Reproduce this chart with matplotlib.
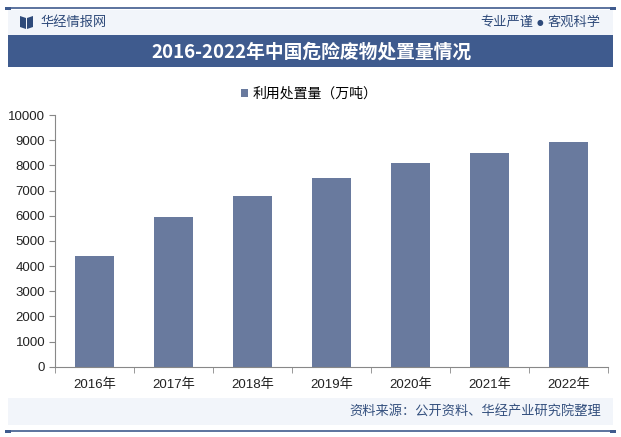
import matplotlib.pyplot as plt
import matplotlib.patches as mpatches
import numpy as np

plt.rcParams['font.family'] = ['Liberation Sans', 'Noto Sans CJK SC', 'DejaVu Sans']

years = ['2016年', '2017年', '2018年', '2019年', '2020年', '2021年', '2022年']
values = [4410, 5960, 6800, 7510, 8080, 8480, 8920]
series_name = '利用处置量（万吨）'
title = '2016-2022年中国危险废物处置量情况'

W, H = 621, 437
fig = plt.figure(figsize=(W / 100, H / 100), dpi=100)
fig.patch.set_facecolor('white')

def px(x, y):
    return x / W, 1 - y / H

# header band
fig.patches.append(mpatches.Rectangle(px(8, 35), 605 / W, 25 / H, transform=fig.transFigure,
                                      facecolor='#f2f5fa', edgecolor='none', zorder=0))
# title band
fig.patches.append(mpatches.Rectangle(px(8, 67), 605 / W, 32 / H, transform=fig.transFigure,
                                      facecolor='#3f5b8e', edgecolor='none', zorder=0))
# footer band
fig.patches.append(mpatches.Rectangle(px(8, 425), 605 / W, 27 / H, transform=fig.transFigure,
                                      facecolor='#f2f5fa', edgecolor='none', zorder=0))
# top and bottom lines
for yy in (8, 431):
    fig.add_artist(plt.Line2D([8 / W, 613 / W], [1 - yy / H] * 2, color='#3f5b8e', lw=1.2))
    for xx in (8, 613):
        fig.patches.append(mpatches.Rectangle(px(xx - 3, yy + 1.5), 6 / W, 3 / H,
                                              transform=fig.transFigure, facecolor='#3f5b8e',
                                              edgecolor='none'))

# header icon
fig.patches.append(mpatches.Polygon([px(20, 16), px(26, 18), px(26, 29), px(20, 27)], closed=True,
                                    transform=fig.transFigure, facecolor='#2e4a7a', edgecolor='none'))
fig.patches.append(mpatches.Polygon([px(27, 18), px(33, 16), px(33, 27), px(27, 29)], closed=True,
                                    transform=fig.transFigure, facecolor='#2e4a7a', edgecolor='none'))
fig.text(*px(40, 22), '华经情报网', fontsize=9.5, color='#2e4a7a', va='center', ha='left',
         family=['Noto Sans CJK SC'])
fig.text(*px(601, 22), '客观科学', fontsize=9.5, color='#2e4a7a', va='center', ha='right',
         family=['Noto Sans CJK SC'])
fig.text(*px(533, 22), '专业严谨', fontsize=9.5, color='#2e4a7a', va='center', ha='right',
         family=['Noto Sans CJK SC'])
fig.text(*px(540, 22), '●', fontsize=5.5, color='#2e4a7a', va='center', ha='center',
         family=['DejaVu Sans'])
fig.text(*px(311, 52), title, fontsize=13.5, color='white', va='center', ha='center',
         fontweight='bold', family=['Noto Sans CJK SC'])
fig.text(*px(601, 411), '资料来源：公开资料、华经产业研究院整理', fontsize=9.5, color='#34507e',
         va='center', ha='right', family=['Noto Sans CJK SC'])

ax = fig.add_axes([55 / W, 1 - 366.8 / H, 553 / W, (366.8 - 115) / H])
ax.set_facecolor('none')
x = np.arange(len(years))
ax.bar(x, values, width=0.49, color='#697a9e', label=series_name, zorder=2)
ax.set_xlim(-0.5, len(years) - 0.5)
ax.set_ylim(0, 10000)
ax.set_yticks(np.arange(0, 10001, 1000))
ax.set_xticks(x)
ax.set_xticklabels(years, family=['Liberation Sans', 'Noto Sans CJK SC'])
ax.set_xticks(np.arange(-0.5, len(years), 1), minor=True)
ax.tick_params(axis='x', which='major', length=0, pad=8, labelsize=9.5, colors='#222222')
ax.tick_params(axis='x', which='minor', length=4, color='#888888', direction='out')
ax.tick_params(axis='y', length=4, color='#888888', labelsize=9.5, labelcolor='#222222', pad=3)
for s in ('top', 'right'):
    ax.spines[s].set_visible(False)
for s in ('left', 'bottom'):
    ax.spines[s].set_color('#888888')
    ax.spines[s].set_linewidth(0.8)

leg = fig.legend(loc='center', bbox_to_anchor=px(309, 94), frameon=False,
                 handlelength=0.55, handleheight=0.55, handletextpad=0.3,
                 prop={'family': ['Noto Sans CJK SC'], 'size': 10})

fig.savefig('out.png', dpi=100)
